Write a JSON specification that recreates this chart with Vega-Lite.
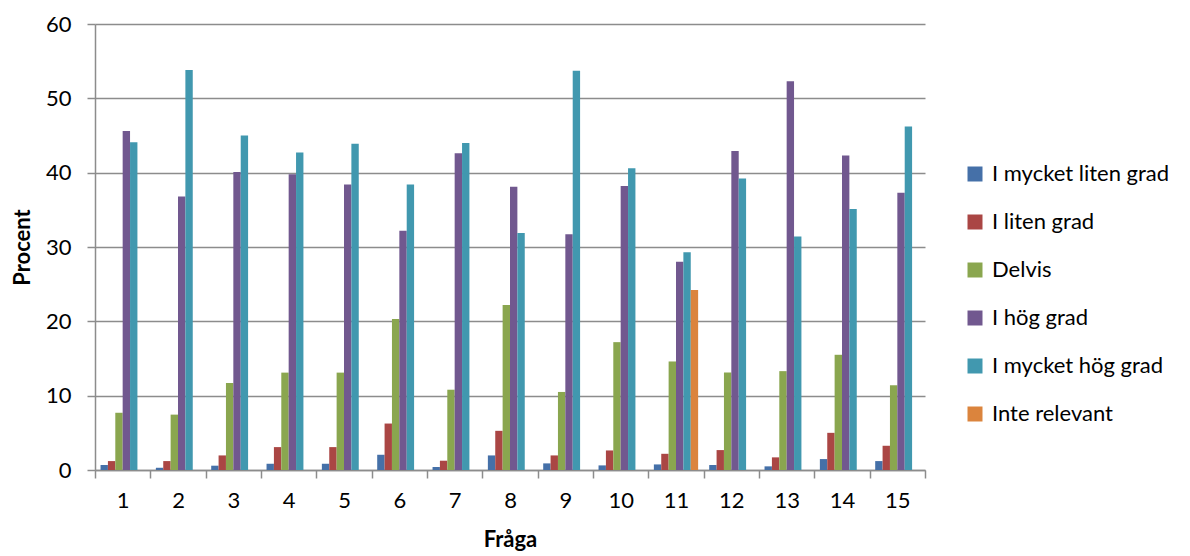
{
  "$schema": "https://vega.github.io/schema/vega-lite/v6.json",
  "width": 830,
  "height": 446,
  "autosize": {"type": "none"},
  "padding": {"left": 95, "top": 24, "right": 265, "bottom": 86},
  "background": "white",
  "config": {
    "font": "Lato",
    "view": {"stroke": null},
    "axis": {"labelFont": "Lato", "titleFont": "Lato", "labelColor": "black", "titleColor": "black"}
  },
  "data": {
    "values": [
      {"q": 1, "s": "I mycket liten grad", "v": 0.67}, {"q": 1, "s": "I liten grad", "v": 1.2}, {"q": 1, "s": "Delvis", "v": 7.7}, {"q": 1, "s": "I hög grad", "v": 45.6}, {"q": 1, "s": "I mycket hög grad", "v": 44.1},
      {"q": 2, "s": "I mycket liten grad", "v": 0.3}, {"q": 2, "s": "I liten grad", "v": 1.2}, {"q": 2, "s": "Delvis", "v": 7.45}, {"q": 2, "s": "I hög grad", "v": 36.8}, {"q": 2, "s": "I mycket hög grad", "v": 53.8},
      {"q": 3, "s": "I mycket liten grad", "v": 0.58}, {"q": 3, "s": "I liten grad", "v": 1.96}, {"q": 3, "s": "Delvis", "v": 11.7}, {"q": 3, "s": "I hög grad", "v": 40.1}, {"q": 3, "s": "I mycket hög grad", "v": 45.0},
      {"q": 4, "s": "I mycket liten grad", "v": 0.84}, {"q": 4, "s": "I liten grad", "v": 3.08}, {"q": 4, "s": "Delvis", "v": 13.1}, {"q": 4, "s": "I hög grad", "v": 39.8}, {"q": 4, "s": "I mycket hög grad", "v": 42.7},
      {"q": 5, "s": "I mycket liten grad", "v": 0.84}, {"q": 5, "s": "I liten grad", "v": 3.08}, {"q": 5, "s": "Delvis", "v": 13.1}, {"q": 5, "s": "I hög grad", "v": 38.4}, {"q": 5, "s": "I mycket hög grad", "v": 43.9},
      {"q": 6, "s": "I mycket liten grad", "v": 2.05}, {"q": 6, "s": "I liten grad", "v": 6.25}, {"q": 6, "s": "Delvis", "v": 20.3}, {"q": 6, "s": "I hög grad", "v": 32.2}, {"q": 6, "s": "I mycket hög grad", "v": 38.4},
      {"q": 7, "s": "I mycket liten grad", "v": 0.4}, {"q": 7, "s": "I liten grad", "v": 1.25}, {"q": 7, "s": "Delvis", "v": 10.8}, {"q": 7, "s": "I hög grad", "v": 42.6}, {"q": 7, "s": "I mycket hög grad", "v": 44.0},
      {"q": 8, "s": "I mycket liten grad", "v": 1.96}, {"q": 8, "s": "I liten grad", "v": 5.27}, {"q": 8, "s": "Delvis", "v": 22.2}, {"q": 8, "s": "I hög grad", "v": 38.1}, {"q": 8, "s": "I mycket hög grad", "v": 31.9},
      {"q": 9, "s": "I mycket liten grad", "v": 0.89}, {"q": 9, "s": "I liten grad", "v": 1.96}, {"q": 9, "s": "Delvis", "v": 10.5}, {"q": 9, "s": "I hög grad", "v": 31.7}, {"q": 9, "s": "I mycket hög grad", "v": 53.7},
      {"q": 10, "s": "I mycket liten grad", "v": 0.62}, {"q": 10, "s": "I liten grad", "v": 2.63}, {"q": 10, "s": "Delvis", "v": 17.2}, {"q": 10, "s": "I hög grad", "v": 38.2}, {"q": 10, "s": "I mycket hög grad", "v": 40.6},
      {"q": 11, "s": "I mycket liten grad", "v": 0.75}, {"q": 11, "s": "I liten grad", "v": 2.18}, {"q": 11, "s": "Delvis", "v": 14.6}, {"q": 11, "s": "I hög grad", "v": 28.0}, {"q": 11, "s": "I mycket hög grad", "v": 29.3}, {"q": 11, "s": "Inte relevant", "v": 24.2},
      {"q": 12, "s": "I mycket liten grad", "v": 0.67}, {"q": 12, "s": "I liten grad", "v": 2.68}, {"q": 12, "s": "Delvis", "v": 13.1}, {"q": 12, "s": "I hög grad", "v": 42.9}, {"q": 12, "s": "I mycket hög grad", "v": 39.2},
      {"q": 13, "s": "I mycket liten grad", "v": 0.49}, {"q": 13, "s": "I liten grad", "v": 1.7}, {"q": 13, "s": "Delvis", "v": 13.3}, {"q": 13, "s": "I hög grad", "v": 52.3}, {"q": 13, "s": "I mycket hög grad", "v": 31.4},
      {"q": 14, "s": "I mycket liten grad", "v": 1.47}, {"q": 14, "s": "I liten grad", "v": 5.0}, {"q": 14, "s": "Delvis", "v": 15.5}, {"q": 14, "s": "I hög grad", "v": 42.3}, {"q": 14, "s": "I mycket hög grad", "v": 35.1},
      {"q": 15, "s": "I mycket liten grad", "v": 1.2}, {"q": 15, "s": "I liten grad", "v": 3.26}, {"q": 15, "s": "Delvis", "v": 11.4}, {"q": 15, "s": "I hög grad", "v": 37.3}, {"q": 15, "s": "I mycket hög grad", "v": 46.2}
    ]
  },
  "mark": {"type": "bar"},
  "encoding": {
    "x": {
      "field": "q", "type": "ordinal",
      "scale": {"paddingInner": 0, "paddingOuter": 0},
      "axis": {
        "title": "Fråga", "titleFontSize": 22, "titleFontWeight": "bold", "titlePadding": 18,
        "labelAngle": 0, "labelFontSize": 22, "labelPadding": 12,
        "tickBand": "extent", "ticks": true, "tickSize": 8, "tickColor": "#8c8c8c", "tickWidth": 1.5,
        "domainColor": "#8c8c8c", "domainWidth": 1.5, "grid": false
      }
    },
    "xOffset": {
      "field": "s", "type": "nominal",
      "sort": ["I mycket liten grad", "I liten grad", "Delvis", "I hög grad", "I mycket hög grad", "Inte relevant"],
      "scale": {"domain": ["I mycket liten grad", "I liten grad", "Delvis", "I hög grad", "I mycket hög grad", "Inte relevant"], "paddingInner": 0, "paddingOuter": 0.75}
    },
    "y": {
      "field": "v", "type": "quantitative",
      "scale": {"domain": [0, 60], "nice": false},
      "axis": {
        "title": "Procent", "titleFontSize": 22, "titleFontWeight": "bold", "titlePadding": 11,
        "values": [0, 10, 20, 30, 40, 50, 60],
        "labelFontSize": 22, "labelPadding": 16, "tickSize": 8, "tickColor": "#8c8c8c", "tickWidth": 1.5,
        "domainColor": "#8c8c8c", "domainWidth": 1.5,
        "grid": true, "gridColor": "#8c8c8c", "gridWidth": 1.3
      }
    },
    "color": {
      "field": "s", "type": "nominal",
      "scale": {
        "domain": ["I mycket liten grad", "I liten grad", "Delvis", "I hög grad", "I mycket hög grad", "Inte relevant"],
        "range": ["#4570A8", "#AA4644", "#8AA64F", "#71588F", "#4198AF", "#DB843D"]
      },
      "legend": {
        "title": null, "orient": "none", "legendX": 869, "legendY": 139,
        "symbolType": "square", "symbolSize": 225, "symbolStrokeWidth": 0,
        "labelFontSize": 22, "labelFont": "Lato", "labelColor": "black", "labelLimit": 400,
        "rowPadding": 26, "labelOffset": 6
      }
    }
  }
}
